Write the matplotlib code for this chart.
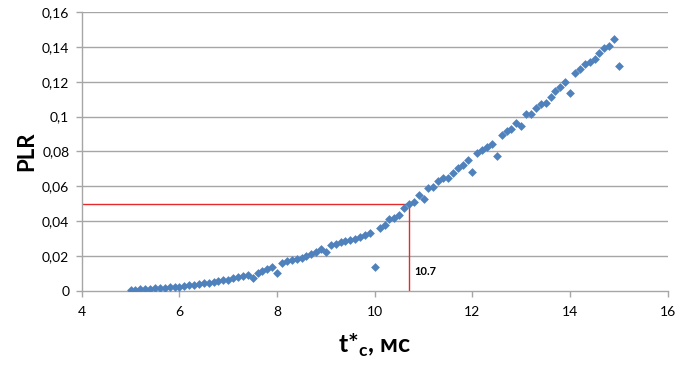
import matplotlib.pyplot as plt
from matplotlib.ticker import FuncFormatter

plt.rcParams['font.family'] = ['Lato', 'Noto Sans', 'DejaVu Sans']
plt.rcParams['mathtext.fontset'] = 'custom'
plt.rcParams['mathtext.rm'] = 'Lato'
plt.rcParams['mathtext.bf'] = 'Lato:bold'

# Данные
t_c = [5.0, 5.1, 5.2, 5.3, 5.4, 5.5, 5.6, 5.7, 5.8, 5.9,
       6.0, 6.1, 6.2, 6.3, 6.4, 6.5, 6.6, 6.7, 6.8, 6.9,
       7.0, 7.1, 7.2, 7.3, 7.4, 7.5, 7.6, 7.7, 7.8, 7.9,
       8.0, 8.1, 8.2, 8.3, 8.4, 8.5, 8.6, 8.7, 8.8, 8.9,
       9.0, 9.1, 9.2, 9.3, 9.4, 9.5, 9.6, 9.7, 9.8, 9.9,
       10.0, 10.1, 10.2, 10.3, 10.4, 10.5, 10.6, 10.7, 10.8, 10.9,
       11.0, 11.1, 11.2, 11.3, 11.4, 11.5, 11.6, 11.7, 11.8, 11.9,
       12.0, 12.1, 12.2, 12.3, 12.4, 12.5, 12.6, 12.7, 12.8, 12.9,
       13.0, 13.1, 13.2, 13.3, 13.4, 13.5, 13.6, 13.7, 13.8, 13.9,
       14.0, 14.1, 14.2, 14.3, 14.4, 14.5, 14.6, 14.7, 14.8, 14.9,
       15.0]
plr = [0.0005, 0.0008, 0.0010, 0.0012, 0.0013, 0.0015, 0.0016, 0.0018, 0.0020, 0.0022,
       0.0020, 0.0030, 0.0033, 0.0036, 0.0040, 0.0044, 0.0048, 0.0053, 0.0057, 0.0062,
       0.0060, 0.0072, 0.0078, 0.0085, 0.0092, 0.0074, 0.0100, 0.0115, 0.0126, 0.0140,
       0.0103, 0.0160, 0.0170, 0.0176, 0.0183, 0.0190, 0.0200, 0.0212, 0.0222, 0.0240,
       0.0222, 0.0262, 0.0268, 0.0280, 0.0285, 0.0290, 0.0300, 0.0310, 0.0318, 0.0330,
       0.0139, 0.0363, 0.0378, 0.0410, 0.0418, 0.0436, 0.0474, 0.0499, 0.0512, 0.0550,
       0.0526, 0.0589, 0.0598, 0.0633, 0.0646, 0.0650, 0.0675, 0.0704, 0.0723, 0.0751,
       0.0684, 0.0790, 0.0809, 0.0828, 0.0843, 0.0774, 0.0895, 0.0917, 0.0927, 0.0965,
       0.0946, 0.1013, 0.1015, 0.1048, 0.1072, 0.1076, 0.1114, 0.1149, 0.1172, 0.1200,
       0.1137, 0.1248, 0.1271, 0.1300, 0.1311, 0.1330, 0.1367, 0.1395, 0.1407, 0.1444,
       0.1292]

t_mark = 10.7
plr_mark = 0.05
x_ticks = [4, 6, 8, 10, 12, 14, 16]
y_ticks = [0, 0.02, 0.04, 0.06, 0.08, 0.1, 0.12, 0.14, 0.16]

fig = plt.figure(figsize=(6.87, 3.65), dpi=100)
ax = fig.add_axes([0.119, 0.203, 0.853, 0.764])

grid_color = '#a6a6a6'
for y in y_ticks[1:]:
    ax.axhline(y, color=grid_color, linewidth=1.0, zorder=1)

ax.scatter(t_c, plr, marker='D', s=20, color='#4f81bd', linewidths=0, zorder=3)

# Красные линии-выноски
ax.plot([4, t_mark], [plr_mark, plr_mark], color='#e8292a', linewidth=1.0, zorder=2)
ax.plot([t_mark, t_mark], [0, plr_mark], color='#e8292a', linewidth=1.0, zorder=2)
ax.text(t_mark + 0.12, 0.011, '10.7', fontsize=8, fontweight='bold', ha='left', va='center')

ax.set_xlim(4, 16)
ax.set_ylim(0, 0.16)
ax.set_xticks(x_ticks)
ax.set_yticks(y_ticks)
ax.yaxis.set_major_formatter(FuncFormatter(lambda v, p: ('%g' % round(v, 2)).replace('.', ',')))

for side in ['top', 'right']:
    ax.spines[side].set_visible(False)
for side in ['left', 'bottom']:
    ax.spines[side].set_color(grid_color)
    ax.spines[side].set_linewidth(1.0)
ax.tick_params(axis='both', colors=grid_color, labelcolor='black', labelsize=10, length=4, width=1.0)
ax.tick_params(axis='y', pad=5)
ax.tick_params(axis='x', pad=7)

ax.set_ylabel('PLR', fontsize=16, fontweight='bold', labelpad=3)
ax.set_xlabel('t*$_{\\mathbf{c}}$, мс', fontsize=18, fontweight='bold', labelpad=10)

fig.savefig('out.png', dpi=100)
